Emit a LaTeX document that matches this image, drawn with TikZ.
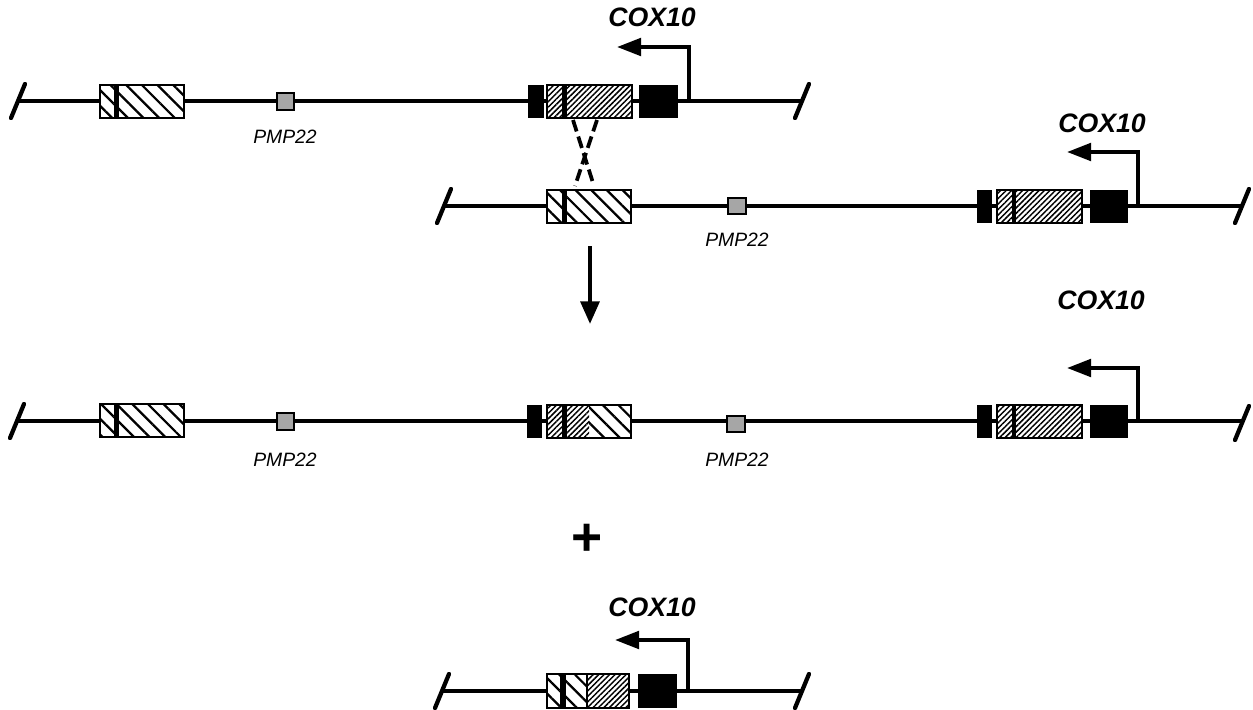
\documentclass[tikz,border=0pt]{standalone}
\usepackage{fontspec}
\setmainfont{Liberation Sans}
\usetikzlibrary{patterns.meta,arrows.meta,calc}
\begin{document}
\begin{tikzpicture}[x=0.75pt,y=-0.75pt,
  backbone/.style={line width=2.3pt},
  endtick/.style={line width=3.2pt,line cap=round},
  lighthatch/.style={pattern={Lines[angle=-45,distance=8.3pt,line width=1.7pt]}},
  densehatch/.style={pattern={Lines[angle=45,distance=2.9pt,line width=1.1pt]}},
  outline/.style={draw,line width=0.9pt},
  blackbox/.style={fill=black},
  pmpbox/.style={draw,line width=0.9pt,fill=black!35},
  promoter/.style={line width=3pt,-{Triangle[length=18pt,width=13pt]}},
  crossline/.style={line width=2.8pt,dash pattern=on 9pt off 4pt},
  bigarrow/.style={line width=3.2pt,-{Triangle[length=17pt,width=14pt]}},
  genelabel/.style={font=\fontsize{20}{22}\selectfont\bfseries\itshape},
  pmplabel/.style={font=\fontsize{14.5}{16}\selectfont\itshape},
]
\useasboundingbox (0,0) rectangle (1253,710);

% ---------------- Row 1 ----------------
\coordinate (L1) at (18,101);
\coordinate (R1) at (802,101);
\draw[backbone] (L1) -- (R1);
\draw[endtick] ($(L1)+(-7,17)$) -- ($(L1)+(7,-17)$);
\draw[endtick] ($(R1)+(-7,17)$) -- ($(R1)+(7,-17)$);
\draw[outline,lighthatch,preaction={fill=white}] (100,85) rectangle (184,118);
\fill (114,85) rectangle (119,118);
\draw[pmpbox] (277,93) rectangle (294,110);
\node[pmplabel] (pmp1) at (285,137) {PMP22};
\fill[blackbox] (528,85) rectangle (544,118);
\draw[outline,densehatch,preaction={fill=white}] (547,85) rectangle (632,118);
\fill (562,85) rectangle (567,118);
\fill[blackbox] (639,85) rectangle (678,118);
\coordinate (p1) at (689,101);
\coordinate (t1) at (617,47);
\draw[promoter] (p1) |- (t1);
\node[genelabel] (cox1) at (652,17) {COX10};

% crossing-over lines
\coordinate (xa1) at (573,120);
\coordinate (xa2) at (594,186);
\coordinate (xb1) at (597,120);
\coordinate (xb2) at (575,186);
\draw[crossline] (xa1) -- (xa2);
\draw[crossline] (xb1) -- (xb2);

% ---------------- Row 2 ----------------
\coordinate (L2) at (444,206);
\coordinate (R2) at (1242,206);
\draw[backbone] (L2) -- (R2);
\draw[endtick] ($(L2)+(-7,17)$) -- ($(L2)+(7,-17)$);
\draw[endtick] ($(R2)+(-7,17)$) -- ($(R2)+(7,-17)$);
\draw[outline,lighthatch,preaction={fill=white}] (547,190) rectangle (631,223);
\fill (562,190) rectangle (567,223);
\draw[pmpbox] (728,198) rectangle (746,214);
\node[pmplabel] (pmp2) at (737,240) {PMP22};
\fill[blackbox] (977,190) rectangle (992,223);
\draw[outline,densehatch,preaction={fill=white}] (997,190) rectangle (1082,223);
\fill (1012,190) rectangle (1016,223);
\fill[blackbox] (1090,190) rectangle (1128,223);
\coordinate (p2) at (1138,206);
\coordinate (t2) at (1067,152);
\draw[promoter] (p2) |- (t2);
\node[genelabel] (cox2) at (1102,123) {COX10};

% down arrow
\coordinate (d1) at (590,246);
\coordinate (d2) at (590,324);
\draw[bigarrow] (d1) -- (d2);

\node[genelabel] (cox3) at (1101,300) {COX10};

% ---------------- Row 3 ----------------
\coordinate (L3) at (17,421);
\coordinate (R3) at (1242,421);
\draw[backbone] (L3) -- (R3);
\draw[endtick] ($(L3)+(-7,17)$) -- ($(L3)+(7,-17)$);
\draw[endtick] ($(R3)+(-7,19)$) -- ($(R3)+(7,-15)$);
\draw[outline,lighthatch,preaction={fill=white}] (100,404) rectangle (184,437);
\fill (114,404) rectangle (119,437);
\draw[pmpbox] (277,413) rectangle (294,430);
\node[pmplabel] (pmp3) at (285,460) {PMP22};
\fill[blackbox] (527,405) rectangle (542,438);
\fill[white] (547,405) rectangle (631,438);
\path[densehatch] (547,405) rectangle (589,438);
\path[lighthatch] (589,405) rectangle (631,438);
\draw[outline] (547,405) rectangle (631,438);
\fill (562,405) rectangle (567,438);
\draw[pmpbox] (727,416) rectangle (745,432);
\node[pmplabel] (pmp4) at (737,460) {PMP22};
\fill[blackbox] (977,405) rectangle (992,438);
\draw[outline,densehatch,preaction={fill=white}] (997,405) rectangle (1082,438);
\fill (1012,405) rectangle (1016,438);
\fill[blackbox] (1090,405) rectangle (1128,438);
\coordinate (p3) at (1138,421);
\coordinate (t3) at (1067,368);
\draw[promoter] (p3) |- (t3);

% plus
\node[font=\fontsize{40}{40}\selectfont\bfseries] (plus) at (587,540) {+};

% ---------------- Row 4 ----------------
\coordinate (L4) at (442,691);
\coordinate (R4) at (802,691);
\draw[backbone] (L4) -- (R4);
\draw[endtick] ($(L4)+(-7,17)$) -- ($(L4)+(7,-17)$);
\draw[endtick] ($(R4)+(-7,17)$) -- ($(R4)+(7,-17)$);
\fill[white] (547,674) rectangle (629,708);
\path[lighthatch] (547,674) rectangle (587,708);
\path[densehatch] (587,674) rectangle (629,708);
\draw[outline] (547,674) rectangle (629,708);
\draw[line width=0.9pt] (587,674) -- (587,708);
\fill (560,674) rectangle (566,708);
\fill[blackbox] (638,674) rectangle (677,708);
\coordinate (p4) at (688,691);
\coordinate (t4) at (615,640);
\draw[promoter] (p4) |- (t4);
\node[genelabel] (cox4) at (652,607) {COX10};
\end{tikzpicture}
\end{document}
